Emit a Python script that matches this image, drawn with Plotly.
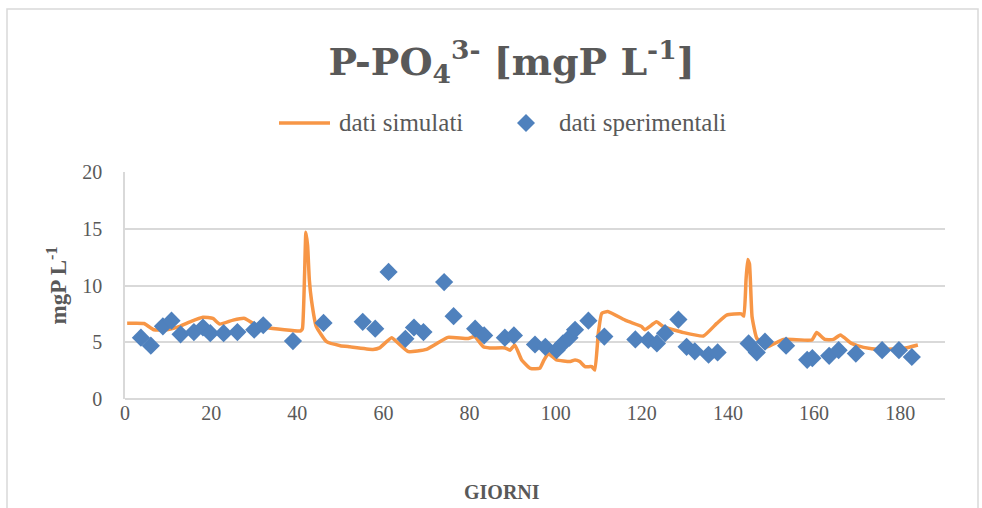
import plotly.graph_objects as go

# simulated series (days, mgP/L)
sim_days = [0.5, 4.4, 6.7, 9.7, 12.7, 15.1, 18.1, 20.4, 22.0, 25.1, 27.8, 29.8, 32.9, 40.8,
            41.2, 41.7, 42.0, 42.4, 42.8, 43.3, 44.4, 46.8, 50.0, 52.2, 57.6, 59.1, 61.9, 63.5,
            65.8, 70.0, 73.1, 75.0, 79.7, 81.2, 83.2, 84.7, 88.3, 89.4, 90.5, 92.1, 94.1, 96.3,
            97.3, 98.3, 100.2, 103.4, 104.5, 105.6, 106.8, 108.4, 109.1, 109.9, 110.7, 112.1,
            116.4, 119.9, 120.7, 123.4, 125.0, 129.7, 134.3, 137.4, 139.7, 143.1, 143.7, 144.2,
            144.6, 145.0, 145.6, 146.7, 149.1, 152.9, 159.5, 160.6, 162.5, 164.5, 166.1, 168.7,
            171.5, 175.4, 180.8, 184.1]
sim_vals = [6.67, 6.65, 6.1, 6.1, 6.4, 6.8, 7.2, 7.1, 6.6, 6.95, 7.1, 6.65, 6.3, 6.0,
            6.2, 11.0, 14.7, 13.5, 10.5, 8.7, 6.4, 5.05, 4.7, 4.6, 4.37, 4.5, 5.4, 4.9,
            4.17, 4.37, 5.05, 5.43, 5.33, 5.5, 4.6, 4.5, 4.5, 4.3, 4.76, 3.44, 2.7, 2.7,
            3.44, 4.0, 3.44, 3.3, 3.44, 3.3, 2.85, 2.85, 2.55, 5.8, 7.55, 7.7,
            6.9, 6.4, 6.1, 6.8, 6.37, 5.85, 5.55, 6.66, 7.4, 7.5, 7.3, 10.5,
            12.3, 11.9, 7.25, 5.35, 4.6, 5.25, 5.2, 5.85, 5.25, 5.25, 5.64, 4.9,
            4.55, 4.37, 4.46, 4.76]

# experimental series
exp_days = [3.7, 6.0, 8.8, 10.8, 12.9, 16.0, 18.1, 19.8, 22.9, 26.1, 30.0, 32.1, 39.0, 46.1,
            55.2, 58.1, 61.2, 65.1, 67.1, 69.3, 74.1, 76.3, 81.3, 83.4, 88.2, 90.3, 95.2, 97.6,
            100.2, 101.7, 103.2, 104.5, 107.6, 111.3, 118.5, 121.5, 123.5, 125.4, 128.5, 130.4,
            132.3, 135.5, 137.6, 144.8, 146.7, 148.6, 153.5, 158.4, 159.6, 163.5, 165.7, 169.7,
            175.8, 179.7, 182.7]
exp_vals = [5.4, 4.7, 6.4, 6.9, 5.7, 5.9, 6.3, 5.8, 5.8, 5.9, 6.1, 6.5, 5.1, 6.7,
            6.8, 6.2, 11.2, 5.3, 6.3, 5.9, 10.3, 7.3, 6.2, 5.6, 5.4, 5.6, 4.8, 4.6,
            4.3, 4.9, 5.4, 6.1, 6.9, 5.5, 5.25, 5.2, 4.9, 5.8, 7.0, 4.6,
            4.2, 3.9, 4.1, 4.9, 4.1, 5.05, 4.7, 3.45, 3.6, 3.8, 4.3, 4.0,
            4.3, 4.3, 3.7]

x_ticks = [0, 20, 40, 60, 80, 100, 120, 140, 160, 180]
y_ticks = [0, 5, 10, 15, 20]
series_names = ["dati simulati", "dati sperimentali"]

FONT = "Liberation Serif"
GREY = "#595959"
ORANGE = "#F79646"
BLUE = "#4F81BD"

fig = go.Figure()
fig.add_trace(go.Scatter(x=sim_days, y=sim_vals, mode="lines", name=series_names[0],
                         line=dict(color=ORANGE, width=3.5, shape="spline", smoothing=0.4)))
fig.add_trace(go.Scatter(x=exp_days, y=exp_vals, mode="markers", name=series_names[1],
                         marker=dict(symbol="diamond", size=14, color=BLUE,
                                     line=dict(width=0))))

L, R, T, B = 125, 945, 172, 399
W, H = 982, 508
pw, ph = R - L, B - T


def px_x(p):
    return (p - L) / pw


def px_y(p):
    return (B - p) / ph


fig.update_layout(
    width=W, height=H,
    margin=dict(l=L, r=W - R, t=T, b=H - B),
    paper_bgcolor="white", plot_bgcolor="white",
    font=dict(family=FONT, color=GREY, size=20),
    title=dict(text="P-PO<sub>4</sub><sup>3-</sup> [mgP L<sup>-1</sup>]",
               x=0.521, xanchor="center", y=1 - 62 / H, yanchor="middle", yref="container",
               font=dict(family="DejaVu Serif", size=38, color=GREY, weight="bold")),
    showlegend=False,
    xaxis=dict(range=[0, 190.4], tickvals=x_ticks, showgrid=False, zeroline=False,
               showline=False, ticks="", tickfont=dict(family=FONT, size=20, color=GREY)),
    yaxis=dict(range=[0, 20], tickvals=y_ticks, showgrid=True, gridcolor="#D9D9D9", gridwidth=1.5,
               zeroline=True, zerolinecolor="#D9D9D9", zerolinewidth=1.5,
               showline=True, linecolor="#D9D9D9", linewidth=1.5, ticks="",
               ticklabelstandoff=17,
               tickfont=dict(family=FONT, size=20, color=GREY),
               title=dict(text="mgP L<sup>-1</sup>",
                          font=dict(family=FONT, size=23, color=GREY, weight="bold"),
                          standoff=9)),
)

# x axis title
fig.add_annotation(text="<b>GIORNI</b>", xref="paper", yref="paper", x=px_x(502), y=px_y(492),
                   xanchor="center", yanchor="middle", showarrow=False,
                   font=dict(family=FONT, size=20, color=GREY))

# legend (drawn manually to match the reference spacing)
fig.add_shape(type="line", xref="paper", yref="paper", x0=px_x(279), x1=px_x(330),
              y0=px_y(123), y1=px_y(123), line=dict(color=ORANGE, width=3.5))
fig.add_annotation(text=series_names[0], xref="paper", yref="paper", x=px_x(337), y=px_y(122),
                   xanchor="left", yanchor="middle", showarrow=False,
                   font=dict(family=FONT, size=25, color=GREY))
fig.add_shape(type="path", xref="paper", yref="paper", xsizemode="pixel", ysizemode="pixel",
              xanchor=px_x(526), yanchor=px_y(123),
              path="M-9,0 L0,9 L9,0 L0,-9 Z", fillcolor=BLUE, line=dict(width=0))
fig.add_annotation(text=series_names[1], xref="paper", yref="paper", x=px_x(557), y=px_y(122),
                   xanchor="left", yanchor="middle", showarrow=False,
                   font=dict(family=FONT, size=25, color=GREY))

# outer chart border
fig.add_shape(type="rect", xref="paper", yref="paper",
              x0=px_x(7), x1=px_x(978), y0=px_y(530), y1=px_y(9),
              line=dict(color="#D9D9D9", width=1.5), fillcolor="rgba(0,0,0,0)", layer="below")

fig.write_html("out.html", config={"displayModeBar": False},
               post_script="document.body.style.margin='0';")
